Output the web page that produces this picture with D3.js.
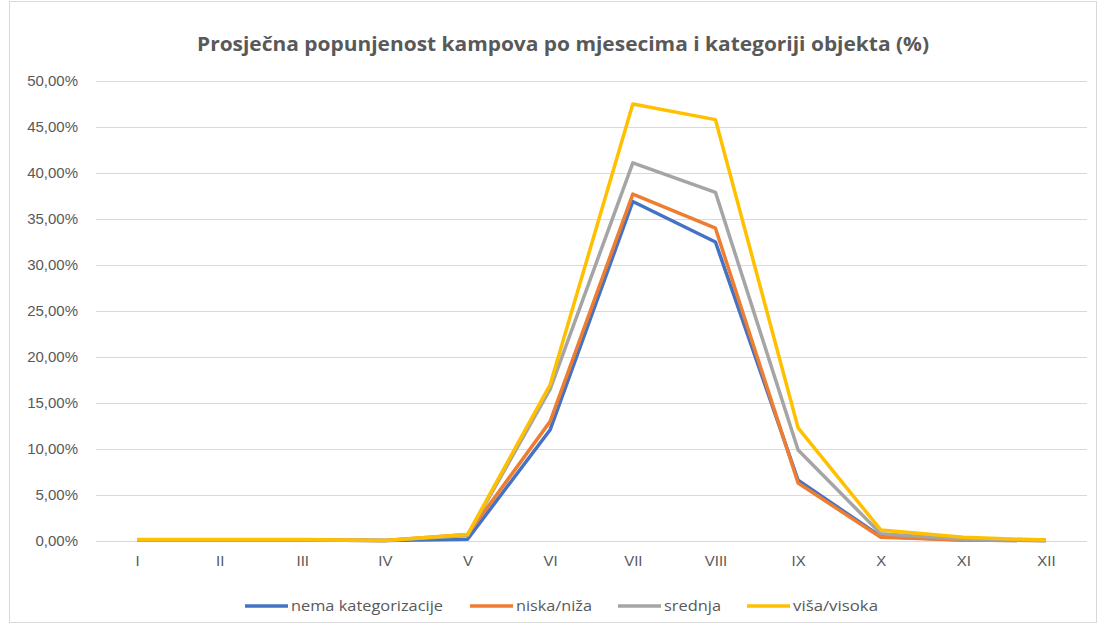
<!DOCTYPE html>
<html><head><meta charset="utf-8">
<script src="https://cdn.jsdelivr.net/npm/d3@7"></script>
<style>body{margin:0;background:#fff;font-family:"Open Sans","Liberation Sans",sans-serif;}</style>
</head><body><svg id="c" width="1099" height="627"></svg>
<script>
const months = ["I","II","III","IV","V","VI","VII","VIII","IX","X","XI","XII"];
const seriesNames = ["nema kategorizacije","niska/niža","srednja","viša/visoka"];
const colors = ["#4472C4","#ED7D31","#A5A5A5","#FFC000"];
const nema    = [0.1,0.1,0.1,0.05,0.2,12.1,36.9,32.5,6.6,0.5,0.1,0.05];
const niska   = [0.1,0.1,0.1,0.05,0.7,13.0,37.7,34.0,6.3,0.4,0.1,0.05];
const srednja = [0.1,0.1,0.1,0.05,0.6,16.5,41.1,37.9,9.9,0.8,0.2,0.05];
const visa    = [0.15,0.15,0.15,0.05,0.7,17.0,47.5,45.8,12.3,1.2,0.4,0.1];
const yTicks = [0,5,10,15,20,25,30,35,40,45,50];
const values = [nema,niska,srednja,visa];

const svg = d3.select("#c");
svg.append("rect").attr("x",9.5).attr("y",1.5).attr("width",1087).attr("height",621)
  .attr("fill","#fff").attr("stroke","#d9d9d9");

const x = d3.scalePoint().domain(months).range([137,1046]);
const y = d3.scaleLinear().domain([0,50]).range([541,81]);
const fmt = v => v.toFixed(2).replace(".",",") + "%";

svg.append("text").attr("x",563).attr("y",51).attr("text-anchor","middle")
  .attr("font-size",20).attr("font-weight","bold").attr("fill","#595959")
  .attr("textLength",732).attr("lengthAdjust","spacingAndGlyphs")
  .text("Prosječna popunjenost kampova po mjesecima i kategoriji objekta (%)");

const yAxis = svg.append("g").attr("transform","translate(96,0)")
  .call(d3.axisLeft(y).tickValues(yTicks).tickSize(-991).tickFormat(fmt).tickPadding(18));
yAxis.select(".domain").remove();
yAxis.selectAll("line").attr("stroke","#d9d9d9");
yAxis.selectAll("text").attr("fill","#595959").attr("font-size",15);

const xAxis = svg.append("g").attr("transform","translate(0,541)")
  .call(d3.axisBottom(x).tickSize(0).tickPadding(14));
xAxis.select(".domain").remove();
xAxis.selectAll("text").attr("fill","#595959").attr("font-size",15);

const line = d3.line().x((d,i)=>x(months[i])).y(d=>y(d));
values.forEach((v,k)=>{
  svg.append("path").datum(v).attr("d",line).attr("fill","none")
    .attr("stroke",colors[k]).attr("stroke-width",3.5).attr("stroke-linejoin","round");
});

const legX = [245,470,618,747];
const legW = [152,76,57,85];
seriesNames.forEach((n,k)=>{
  const g = svg.append("g").attr("transform",`translate(${legX[k]},606)`);
  g.append("line").attr("x1",0).attr("x2",43).attr("stroke",colors[k]).attr("stroke-width",3.5);
  g.append("text").attr("x",46).attr("y",5).attr("font-size",15).attr("fill","#595959")
    .attr("textLength",legW[k]).attr("lengthAdjust","spacingAndGlyphs").text(n);
});
</script></body></html>
